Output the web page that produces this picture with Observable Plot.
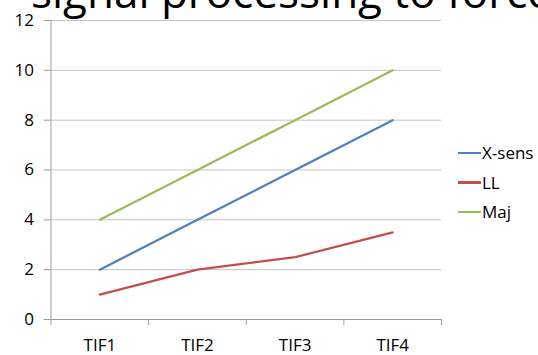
<!DOCTYPE html>
<html>
<head>
<meta charset="utf-8">
<script src="https://cdn.jsdelivr.net/npm/d3@7"></script>
<script src="https://cdn.jsdelivr.net/npm/@observablehq/plot@0.6"></script>
<style>
  html, body { margin: 0; padding: 0; background: #fff; }
  #wrap { position: relative; width: 538px; height: 355px; overflow: hidden; font-family: "Open Sans", sans-serif; }
  #title { position: absolute; left: 31px; top: -31px; font-size: 44px; line-height: 1; white-space: nowrap; color: #000; z-index: 2; }
  #chart { position: absolute; left: 0; top: 0; }
  #legend { position: absolute; left: 458px; top: 138px; font-size: 17px; color: #000; }
  .item { display: flex; align-items: center; height: 29.5px; }
  .swatch { width: 23px; height: 2.5px; margin-right: 1px; }
</style>
</head>
<body>
<div id="wrap">
  <div id="title">signal processing to force</div>
  <div id="chart"></div>
  <div id="legend"></div>
</div>
<script>
// Categories along the x axis
const categories = ["TIF1", "TIF2", "TIF3", "TIF4"];

// Series values, one per category
const xsens = [2, 4, 6, 8];
const ll = [1, 2, 2.5, 3.5];
const maj = [4, 6, 8, 10];

const seriesNames = ["X-sens", "LL", "Maj"];
const seriesColors = ["#4F81BD", "#C0504D", "#9BBB59"];

// Y tick values
const yTicks = [0, 2, 4, 6, 8, 10, 12];

// Long-format table; x is the 1-based category index
const rows = [];
[xsens, ll, maj].forEach((vals, s) => {
  vals.forEach((v, i) => rows.push({series: seriesNames[s], x: i + 1, y: v}));
});

const axisGray = "#9d9d9d";
const gridGray = "#c4c4c4";
const font = "Open Sans, sans-serif";

const chart = Plot.plot({
  width: 538,
  height: 355,
  marginLeft: 50.5,
  marginRight: 97,
  marginTop: 20,
  marginBottom: 36,
  style: {fontFamily: font, fontSize: "17px", color: "#000", background: "transparent"},
  x: {domain: [0.5, categories.length + 0.5]},
  y: {domain: [0, 12]},
  color: {domain: seriesNames, range: seriesColors},
  marks: [
    Plot.gridY(yTicks.filter(d => d > 0), {stroke: gridGray, strokeOpacity: 1, strokeWidth: 1}),
    // category boundary ticks below the axis
    Plot.axisX(d3.range(0.5, categories.length + 1, 1), {
      tickSize: 6, tickFormat: () => "", stroke: axisGray, strokeOpacity: 1, label: null
    }),
    // category labels centered in each band
    Plot.axisX(d3.range(1, categories.length + 1), {
      tickSize: 0, tickPadding: 19, tickFormat: i => categories[i - 1],
      fontSize: 17, label: null
    }),
    Plot.axisY(yTicks, {
      tickSize: 7, tickPadding: 10, stroke: axisGray, strokeOpacity: 1,
      fontSize: 17, label: null
    }),
    Plot.ruleY([0], {stroke: axisGray}),
    Plot.ruleX([0.5], {y1: 0, y2: 12, stroke: axisGray}),
    Plot.line(rows, {x: "x", y: "y", z: "series", stroke: "series", strokeWidth: 2.25})
  ]
});
document.getElementById("chart").appendChild(chart);

// Legend entries
const legend = document.getElementById("legend");
seriesNames.forEach((name, i) => {
  const item = document.createElement("div");
  item.className = "item";
  const sw = document.createElement("div");
  sw.className = "swatch";
  sw.style.background = seriesColors[i];
  const label = document.createElement("span");
  label.textContent = name;
  item.appendChild(sw);
  item.appendChild(label);
  legend.appendChild(item);
});
</script>
</body>
</html>
